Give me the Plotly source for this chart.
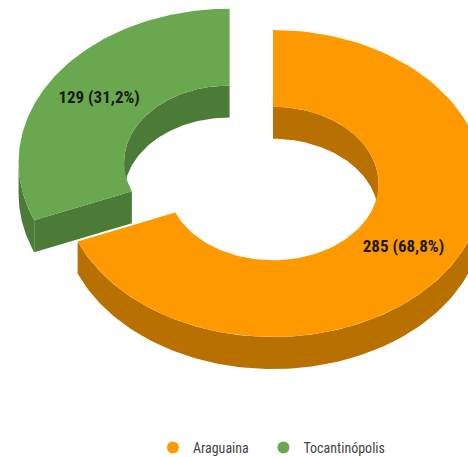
import numpy as np
import plotly.graph_objects as go

# ---- data ----
labels = ["Araguaina", "Tocantinópolis"]
values = [285, 129]
top_colors = ["#FF9900", "#6AA84F"]
side_colors = ["#B87100", "#4B7B36"]
pulls = [0.0, 0.248]

# ---- geometry (style) ----
W, H = 468, 457
CX, CY = 273.0, 183.5
RX, RY = 211.0, 153.5
HOLE = 0.5
DEPTH = 32.0
LABEL_R = 0.745
FONT = "Liberation Sans Narrow, Arial Narrow, Roboto Condensed, Liberation Sans, Arial"
LEGEND_PAD = ["\u00a0\u00a0\u00a0", ""]

total = sum(values)
fig = go.Figure()


def arc(cx, cy, rx, ry, a1, a2, n=120):
    t = np.radians(np.linspace(a1, a2, n))
    return cx + rx * np.cos(t), cy - ry * np.sin(t)


def poly(xs, ys, color):
    fig.add_trace(go.Scatter(x=list(xs) + [xs[0]], y=list(ys) + [ys[0]], mode="lines",
                             fill="toself", fillcolor=color, line=dict(width=0),
                             hoverinfo="skip", showlegend=False))


def clip_range(a1, a2, lo, hi):
    out = []
    for s in (-720, -360, 0, 360, 720):
        l, h = max(a2, lo + s), min(a1, hi + s)
        if h > l:
            out.append((h, l))
    return out


slices = []
start = 90.0
for i, v in enumerate(values):
    sweep = 360.0 * v / total
    a1, a2 = start, start - sweep
    mid = (a1 + a2) / 2
    m = np.radians(mid)
    dx = pulls[i] * RX * np.cos(m)
    dy = -pulls[i] * RY * np.sin(m)
    slices.append((i, a1, a2, mid, CX + dx, CY + dy))
    start = a2

for (i, a1, a2, mid, cx, cy) in [slices[1], slices[0]]:
    side = side_colors[i]
    # back inner wall
    for (h, l) in clip_range(a1, a2, 0, 180):
        xt, yt = arc(cx, cy, RX * HOLE, RY * HOLE, h, l)
        poly(np.concatenate([xt, xt[::-1]]), np.concatenate([yt, (yt + DEPTH)[::-1]]), side)
    # front outer wall
    for (h, l) in clip_range(a1, a2, 180, 360):
        xt, yt = arc(cx, cy, RX, RY, h, l)
        poly(np.concatenate([xt, xt[::-1]]), np.concatenate([yt, (yt + DEPTH)[::-1]]), side)
    # cut faces that face the viewer
    for ang, sgn in ((a1, 1), (a2, -1)):
        t = np.radians(ang)
        nrm_y = np.sin(t + sgn * np.pi / 2)
        if nrm_y < -0.05:
            xo, yo = cx + RX * np.cos(t), cy - RY * np.sin(t)
            xi, yi = cx + RX * HOLE * np.cos(t), cy - RY * HOLE * np.sin(t)
            poly([xo, xi, xi, xo], [yo, yi, yi + DEPTH, yo + DEPTH], side)
    # top face
    xo, yo = arc(cx, cy, RX, RY, a1, a2)
    xi, yi = arc(cx, cy, RX * HOLE, RY * HOLE, a2, a1)
    poly(np.concatenate([xo, xi]), np.concatenate([yo, yi]), top_colors[i])

for (i, a1, a2, mid, cx, cy) in slices:
    m = np.radians(mid)
    pct = f"{100 * values[i] / total:.1f}".replace(".", ",")
    fig.add_trace(go.Scatter(x=[cx + LABEL_R * RX * np.cos(m)], y=[cy - LABEL_R * RY * np.sin(m)],
                             mode="text", text=[f"<b>{values[i]} ({pct}%)</b>"],
                             textfont=dict(family=FONT, size=17, color="#1a1a1a"),
                             hoverinfo="skip", showlegend=False))

for i, lab in enumerate(labels):
    fig.add_trace(go.Scatter(x=[None], y=[None], mode="markers", name=lab + LEGEND_PAD[i],
                             marker=dict(symbol="circle", size=15, color=top_colors[i])))

fig.update_layout(
    width=W, height=H, margin=dict(l=0, r=0, t=0, b=0, autoexpand=False),
    paper_bgcolor="white", plot_bgcolor="white",
    xaxis=dict(range=[0, W], visible=False, fixedrange=True),
    yaxis=dict(range=[H, 0], visible=False, fixedrange=True),
    showlegend=True,
    legend=dict(orientation="h", x=0.58, xanchor="center", y=1 - 448 / H, yanchor="middle",
                font=dict(family=FONT, size=14, color="#444444"), itemsizing="constant",
                bgcolor="rgba(0,0,0,0)"),
)

fig.write_html("out.html", config={"displayModeBar": False},
               post_script="document.body.style.margin='0px';document.body.style.overflow='hidden';")
